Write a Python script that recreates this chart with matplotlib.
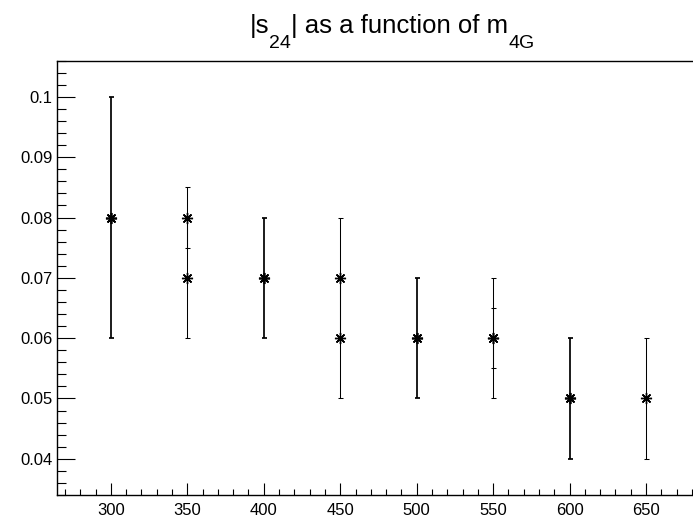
import matplotlib
matplotlib.use("Agg")
import matplotlib.pyplot as plt
from matplotlib.ticker import MultipleLocator, FuncFormatter

plt.rcParams['font.family'] = ['Liberation Sans', 'DejaVu Sans']

# overlaid graphs of |s24| vs m4G
# bold points (drawn with thicker lines)
mass_bold = [300, 400, 500, 600]
s24_bold = [0.08, 0.07, 0.06, 0.05]
err_bold = [0.02, 0.01, 0.01, 0.01]

# thin points, first set
mass_a = [350, 450, 550, 650]
s24_a = [0.08, 0.07, 0.06, 0.05]
err_a = [0.005, 0.01, 0.005, 0.01]

# thin points, second set
mass_b = [350, 450, 550]
s24_b = [0.07, 0.06, 0.06]
err_b = [0.01, 0.01, 0.01]

W, H = 693, 524
fig = plt.figure(figsize=(W / 100, H / 100), dpi=100)
ax = fig.add_axes([57.3 / W, 29 / H, (699.6 - 57.3) / W, 434.3 / H])

for xs, ys, es, lw in [(mass_bold, s24_bold, err_bold, 1.25),
                       (mass_a, s24_a, err_a, 0.75),
                       (mass_b, s24_b, err_b, 0.75)]:
    ax.errorbar(xs, ys, yerr=es, fmt='none', ecolor='black',
                elinewidth=lw, capsize=1.8, capthick=lw)
    ax.plot(xs, ys, linestyle='none', marker=(8, 2, 0), markersize=8,
            markeredgewidth=max(lw, 1.0), color='black')

ax.set_xlim(265, 685)
ax.set_ylim(0.034, 0.106)

ax.xaxis.set_major_locator(MultipleLocator(50))
ax.xaxis.set_minor_locator(MultipleLocator(10))
ax.yaxis.set_major_locator(MultipleLocator(0.01))
ax.yaxis.set_minor_locator(MultipleLocator(0.002))
ax.yaxis.set_major_formatter(FuncFormatter(lambda v, p: '%g' % round(v, 4)))

ax.tick_params(axis='x', which='major', direction='in', length=8.5, width=0.8,
               labelsize=12, pad=5.5, top=False)
ax.tick_params(axis='x', which='minor', direction='in', length=4, width=0.8, top=False)
ax.tick_params(axis='y', which='major', direction='in', length=13, width=0.8,
               labelsize=12, pad=3.5, right=False)
ax.tick_params(axis='y', which='minor', direction='in', length=6.5, width=0.8, right=False)
for sp in ax.spines.values():
    sp.set_linewidth(1.0)

# title built from pieces so the subscripts sit low like ROOT's TLatex
pieces = [("|s", 18.5, 0), ("24", 14, -15), ("| as a function of m", 18.5, 0), ("4G", 14, -15)]
renderer = fig.canvas.get_renderer()
x_px = 250
base_y = H - 33
for txt, size, dy in pieces:
    t = fig.text(x_px / W, (base_y + dy) / H, txt, fontsize=size,
                 ha='left', va='baseline')
    x_px += t.get_window_extent(renderer).width

fig.savefig("out.png", dpi=100)
